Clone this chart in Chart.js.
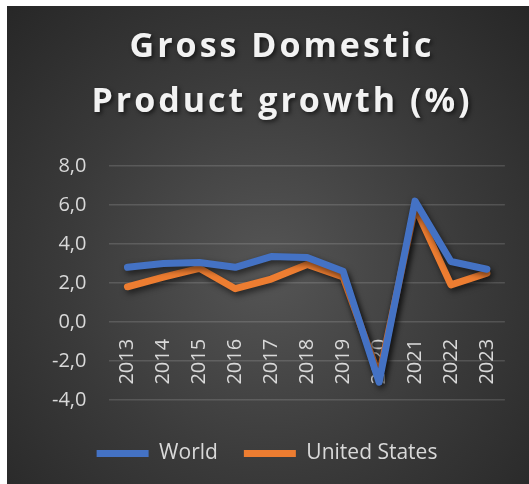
<!DOCTYPE html>
<html>
<head>
<meta charset="utf-8">
<script src="https://cdn.jsdelivr.net/npm/chart.js@4"></script>
<style>
  body { margin: 0; background: #ffffff; }
  #box {
    position: absolute; left: 7px; top: 6px; width: 522px; height: 478px; overflow: hidden;
    background: radial-gradient(ellipse at 50% 55%, #555555 0%, #3a3a3a 55%, #272727 100%);
  }
</style>
</head>
<body>
<div id="box"><canvas id="gdpChart" width="522" height="468"></canvas></div>
<script>
const years = ['2013', '2014', '2015', '2016', '2017', '2018', '2019', '2020', '2021', '2022', '2023'];
const worldGrowth = [2.8, 3.0, 3.05, 2.8, 3.35, 3.3, 2.6, -3.1, 6.2, 3.1, 2.7];
const usGrowth = [1.8, 2.3, 2.75, 1.7, 2.2, 2.95, 2.3, -2.8, 5.9, 1.9, 2.5];
const titleLines = ['Gross Domestic', 'Product growth (%)'];

const ctx = document.getElementById('gdpChart').getContext('2d');

// shadow under the lines + spaced title
const excelLook = {
  id: 'excelLook',
  beforeDraw(chart) {
    const tb = chart.titleBlock;
    if (tb && !tb._patched) {
      const orig = tb.draw;
      tb.draw = function () {
        const c = this.ctx;
        c.save();
        c.translate(15, 0);
        c.letterSpacing = '3px';
        c.shadowColor = 'rgba(0,0,0,0.6)';
        c.shadowBlur = 4;
        c.shadowOffsetX = 2;
        c.shadowOffsetY = 2;
        orig.call(this);
        c.restore();
      };
      tb._patched = true;
    }
  },
  beforeDatasetsDraw(chart) {
    const c = chart.ctx;
    c.save();
    c.shadowColor = 'rgba(0,0,0,0.6)';
    c.shadowBlur = 6;
    c.shadowOffsetX = 2;
    c.shadowOffsetY = 3;
  },
  afterDatasetsDraw(chart) {
    chart.ctx.restore();
  }
};

new Chart(ctx, {
  type: 'line',
  data: {
    labels: years,
    datasets: [
      {
        label: 'World',
        data: worldGrowth,
        borderColor: '#4472C4',
        backgroundColor: '#4472C4',
        borderWidth: 7,
        borderCapStyle: 'round',
        borderJoinStyle: 'round',
        pointRadius: 0,
        tension: 0
      },
      {
        label: 'United States',
        data: usGrowth,
        borderColor: '#ED7D31',
        backgroundColor: '#ED7D31',
        borderWidth: 7,
        borderCapStyle: 'round',
        borderJoinStyle: 'round',
        pointRadius: 0,
        tension: 0
      }
    ]
  },
  options: {
    responsive: false,
    animation: false,
    layout: { padding: { left: 22, right: 24, top: 0, bottom: 0 } },
    plugins: {
      title: {
        display: true,
        text: titleLines,
        color: '#f2f2f2',
        font: { family: 'Open Sans', size: 34, weight: 'bold', lineHeight: 55 / 34 },
        padding: { top: 14, bottom: 36 }
      },
      legend: {
        position: 'bottom',
        title: { display: true, text: '', font: { size: 1 }, padding: { top: 16, bottom: 0 } },
        labels: {
          color: '#d9d9d9',
          font: { family: 'Open Sans', size: 21 },
          usePointStyle: true,
          pointStyle: 'line',
          pointStyleWidth: 52,
          padding: 26
        }
      },
      tooltip: { enabled: false }
    },
    scales: {
      x: {
        position: { y: 0 },
        offset: true,
        grid: { display: false, drawTicks: false },
        border: { display: false },
        ticks: {
          color: '#d9d9d9',
          font: { family: 'Open Sans', size: 20 },
          minRotation: 90,
          maxRotation: 90,
          autoSkip: false,
          padding: 17
        }
      },
      y: {
        min: -4,
        max: 8,
        grid: { color: 'rgba(255,255,255,0.14)', lineWidth: 1.5, drawTicks: false },
        border: { display: false },
        ticks: {
          stepSize: 2,
          color: '#d9d9d9',
          font: { family: 'Open Sans', size: 20 },
          padding: 23,
          callback: v => v.toFixed(1).replace('.', ',')
        }
      }
    }
  },
  plugins: [excelLook]
});
</script>
</body>
</html>
